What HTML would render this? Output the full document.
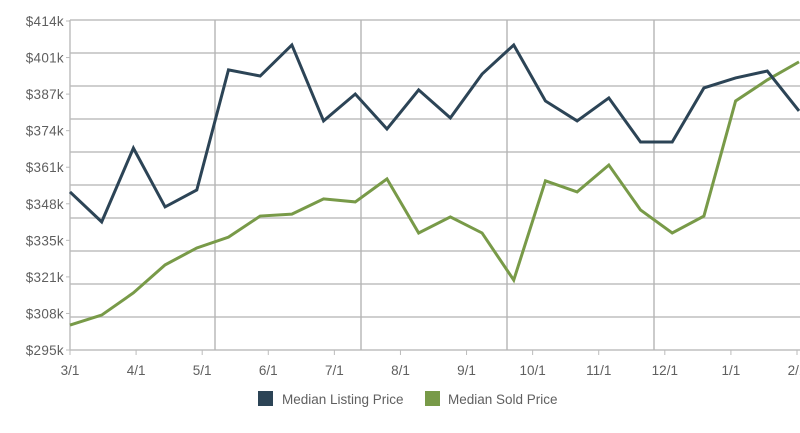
<!DOCTYPE html>
<html><head><meta charset="utf-8"><style>
body{margin:0;background:#fff;width:800px;height:428px;overflow:hidden;font-family:"Liberation Sans",sans-serif}
svg text{font-family:"Liberation Sans",sans-serif;fill:#5f5f5f;font-size:13.5px}
</style></head><body>
<svg id="chart" width="800" height="428" xmlns="http://www.w3.org/2000/svg"></svg>
<script>
const monthLabels=["3/1","4/1","5/1","6/1","7/1","8/1","9/1","10/1","11/1","12/1","1/1","2/1"];
const yTickLabels=["$414k","$401k","$387k","$374k","$361k","$348k","$335k","$321k","$308k","$295k"];
const yTickValues=[414,401,387,374,361,348,335,321,308,295];
const listingPrice=[352.0,341.2,367.8,346.6,352.7,396.0,393.8,405.0,377.6,387.3,374.7,388.8,378.7,394.5,405.0,384.8,377.6,385.9,370.0,370.0,389.5,393.1,395.6,381.2];
const soldPrice=[304.0,307.6,315.6,325.7,331.8,335.7,343.3,344.0,349.5,348.4,356.7,337.2,343.0,337.2,320.2,356.0,352.0,361.7,345.5,337.2,343.3,384.8,392.4,398.9];
const svg=document.getElementById('chart');
const NS="http://www.w3.org/2000/svg";
const X0=70,X1=799,Y0=350,Y1=20,VMIN=295,VMAX=414;
const xIdx=i=>X0+(X1-X0)*i/(listingPrice.length-1);
const xMonth=m=>X0+(797-X0)*m/(monthLabels.length-1);
const y=v=>Y0-(v-VMIN)/(VMAX-VMIN)*(Y0-Y1);
function mk(t,a){const e=document.createElementNS(NS,t);for(const k in a)e.setAttribute(k,a[k]);svg.appendChild(e);return e;}
for(let i=0;i<=10;i++){const gy=Y1+(Y0-Y1)*i/10;
const g=mk('line',{x1:X0,x2:800,y1:gy,y2:gy,stroke:'#bfbfbf','stroke-width':1.6});

}
[215,361,507,654].forEach(vx=>{const g=mk('line',{x1:vx,x2:vx,y1:Y1,y2:Y0,stroke:'#b5b5b5','stroke-width':1.4});

});
mk('line',{x1:X0,x2:X0,y1:Y1,y2:Y0,stroke:'#bbb','stroke-width':1.4});
yTickValues.forEach((v,i)=>{
const yy=Y0-(Y0-21)*(yTickValues.length-1-i)/(yTickValues.length-1);
mk('line',{x1:66,x2:70,y1:yy,y2:yy,stroke:'#bbb'});
const t=mk('text',{x:64,y:yy+5,'text-anchor':'end','letter-spacing':'0.3'});t.textContent=yTickLabels[i];

});
monthLabels.forEach((m,i)=>{const xx=xMonth(i);
mk('line',{x1:xx,x2:xx,y1:Y0,y2:Y0+5,stroke:'#bbb'});
const t=mk('text',{x:xx,y:375,'text-anchor':'middle'});t.textContent=m;

});
function line(data,color,name){const p=mk('polyline',{points:data.map((v,i)=>xIdx(i)+','+y(v)).join(' '),fill:'none',stroke:color,'stroke-width':3,'stroke-linejoin':'miter'});

}
line(soldPrice,'#789a48','sold-price-line');
line(listingPrice,'#2c4456','listing-price-line');
const r1=mk('rect',{x:258,y:391,width:15,height:15,fill:'#2c4456'});


const t1=mk('text',{x:282,y:404,'font-size':'14'});t1.textContent='Median Listing Price';


const r2=mk('rect',{x:425,y:391,width:15,height:15,fill:'#789a48'});


const t2=mk('text',{x:448,y:404,'font-size':'14'});t2.textContent='Median Sold Price';


</script>
</body></html>
